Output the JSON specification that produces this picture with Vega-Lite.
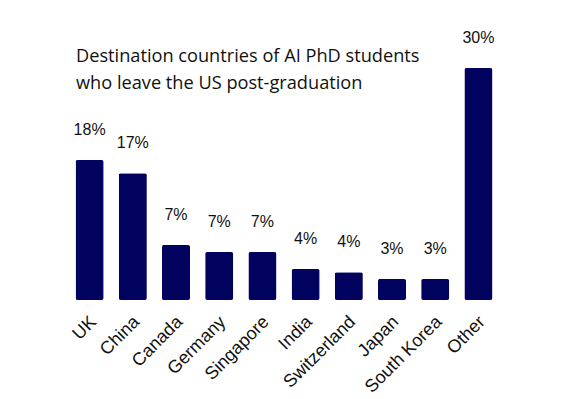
{
  "$schema": "https://vega.github.io/schema/vega-lite/v6.json",
  "autosize": "none",
  "width": 432,
  "height": 232,
  "padding": {"left": 68, "top": 68, "right": 87, "bottom": 99},
  "background": "white",
  "config": {"view": {"stroke": null}},
  "title": {
    "text": ["Destination countries of AI PhD students", "who leave the US post-graduation"],
    "anchor": "start",
    "frame": "group",
    "dx": 8,
    "offset": -63,
    "font": "Open Sans",
    "fontSize": 18.2,
    "fontWeight": "normal",
    "lineHeight": 27,
    "color": "#111111"
  },
  "data": {
    "values": [
      {"country": "UK", "share": 18.1, "label": "18%"},
      {"country": "China", "share": 16.4, "label": "17%"},
      {"country": "Canada", "share": 7.1, "label": "7%"},
      {"country": "Germany", "share": 6.2, "label": "7%"},
      {"country": "Singapore", "share": 6.2, "label": "7%"},
      {"country": "India", "share": 4.0, "label": "4%"},
      {"country": "Switzerland", "share": 3.6, "label": "4%"},
      {"country": "Japan", "share": 2.7, "label": "3%"},
      {"country": "South Korea", "share": 2.7, "label": "3%"},
      {"country": "Other", "share": 30, "label": "30%"}
    ]
  },
  "encoding": {
    "x": {
      "field": "country",
      "type": "nominal",
      "sort": null,
      "scale": {"paddingInner": 0.35, "paddingOuter": 0.175},
      "axis": {
        "title": null,
        "domain": false,
        "ticks": false,
        "labelAngle": -45,
        "labelAlign": "right",
        "labelBaseline": "middle",
        "labelPadding": 19,
        "labelOffset": 4,
        "labelFont": "Liberation Sans",
        "labelFontSize": 18,
        "labelColor": "#111111"
      }
    },
    "y": {
      "field": "share",
      "type": "quantitative",
      "scale": {"domain": [0, 30], "nice": false},
      "axis": null
    }
  },
  "layer": [
    {"mark": {"type": "bar", "color": "#02035f", "cornerRadius": 2}},
    {
      "mark": {"type": "text", "baseline": "bottom", "dy": -22, "font": "Liberation Sans", "fontSize": 16, "color": "#111111"},
      "encoding": {"text": {"field": "label"}}
    }
  ]
}
